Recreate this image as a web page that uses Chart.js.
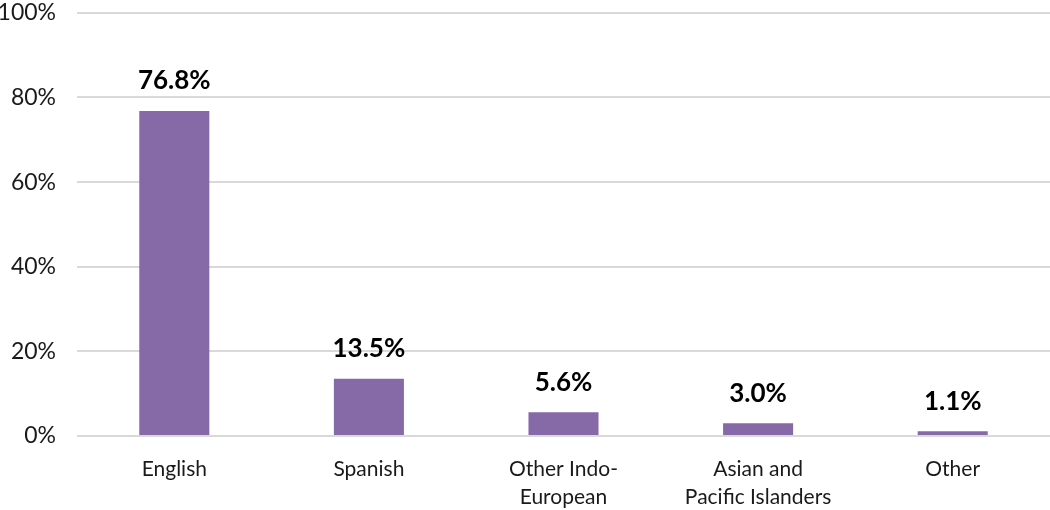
<!DOCTYPE html>
<html lang="en">
<head>
    <meta charset="UTF-8">
    <title>Language spoken at home</title>
    <script src="https://cdn.jsdelivr.net/npm/chart.js"></script>
    <style>
        html, body {
            margin: 0;
            padding: 0;
            background: #ffffff;
            overflow: hidden;
        }
        /* box is taller and pulled up so the 100% line sits near the top edge */
        .chart-box {
            position: relative;
            width: 1050px;
            height: 532px;
            margin-top: -22px;
        }
    </style>
</head>
<body>
    <div class="chart-box">
        <canvas id="langChart"></canvas>
    </div>

    <script>
        // data
        const categories = ['English', 'Spanish', ['Other Indo-', 'European'], ['Asian and', 'Pacific Islanders'], 'Other'];
        const shares = [76.8, 13.5, 5.6, 3.0, 1.1];
        const yTicks = [0, 20, 40, 60, 80, 100];

        const fontFamily = "Lato, 'Open Sans', 'DejaVu Sans', sans-serif";

        // value labels above each bar
        const barLabels = {
            id: 'barLabels',
            afterDatasetsDraw(chart) {
                const ctx = chart.ctx;
                const meta = chart.getDatasetMeta(0);
                ctx.save();
                ctx.font = 'bold 26px ' + fontFamily;
                ctx.fillStyle = '#000';
                ctx.textAlign = 'center';
                ctx.textBaseline = 'bottom';
                meta.data.forEach((bar, i) => {
                    ctx.fillText(shares[i].toFixed(1) + '%', bar.x, bar.y - 17);
                });
                ctx.restore();
            }
        };

        new Chart(document.getElementById('langChart'), {
            type: 'bar',
            data: {
                labels: categories,
                datasets: [{
                    data: shares,
                    backgroundColor: '#8669a7',
                    categoryPercentage: 1,
                    barPercentage: 0.36
                }]
            },
            options: {
                responsive: true,
                maintainAspectRatio: false,
                animation: false,
                layout: {
                    padding: 0
                },
                plugins: {
                    legend: { display: false },
                    tooltip: { enabled: false }
                },
                scales: {
                    y: {
                        min: 0,
                        max: 100,
                        afterBuildTicks(axis) {
                            axis.ticks = yTicks.map(v => ({ value: v }));
                        },
                        afterFit(axis) {
                            axis.width = 77;
                        },
                        border: { display: false },
                        grid: {
                            color: '#d9d9d9',
                            lineWidth: 2,
                            drawTicks: false
                        },
                        ticks: {
                            padding: 21,
                            color: '#1a1a1a',
                            font: { family: fontFamily, size: 23 },
                            callback: v => v + '%'
                        }
                    },
                    x: {
                        afterFit(axis) {
                            axis.height = 74;
                        },
                        border: { display: false },
                        grid: { display: false, drawTicks: false },
                        ticks: {
                            padding: 20,
                            color: '#1a1a1a',
                            maxRotation: 0,
                            autoSkip: false,
                            font: { family: fontFamily, size: 21, lineHeight: 1.3 }
                        }
                    }
                }
            },
            plugins: [barLabels]
        });
    </script>
</body>
</html>
